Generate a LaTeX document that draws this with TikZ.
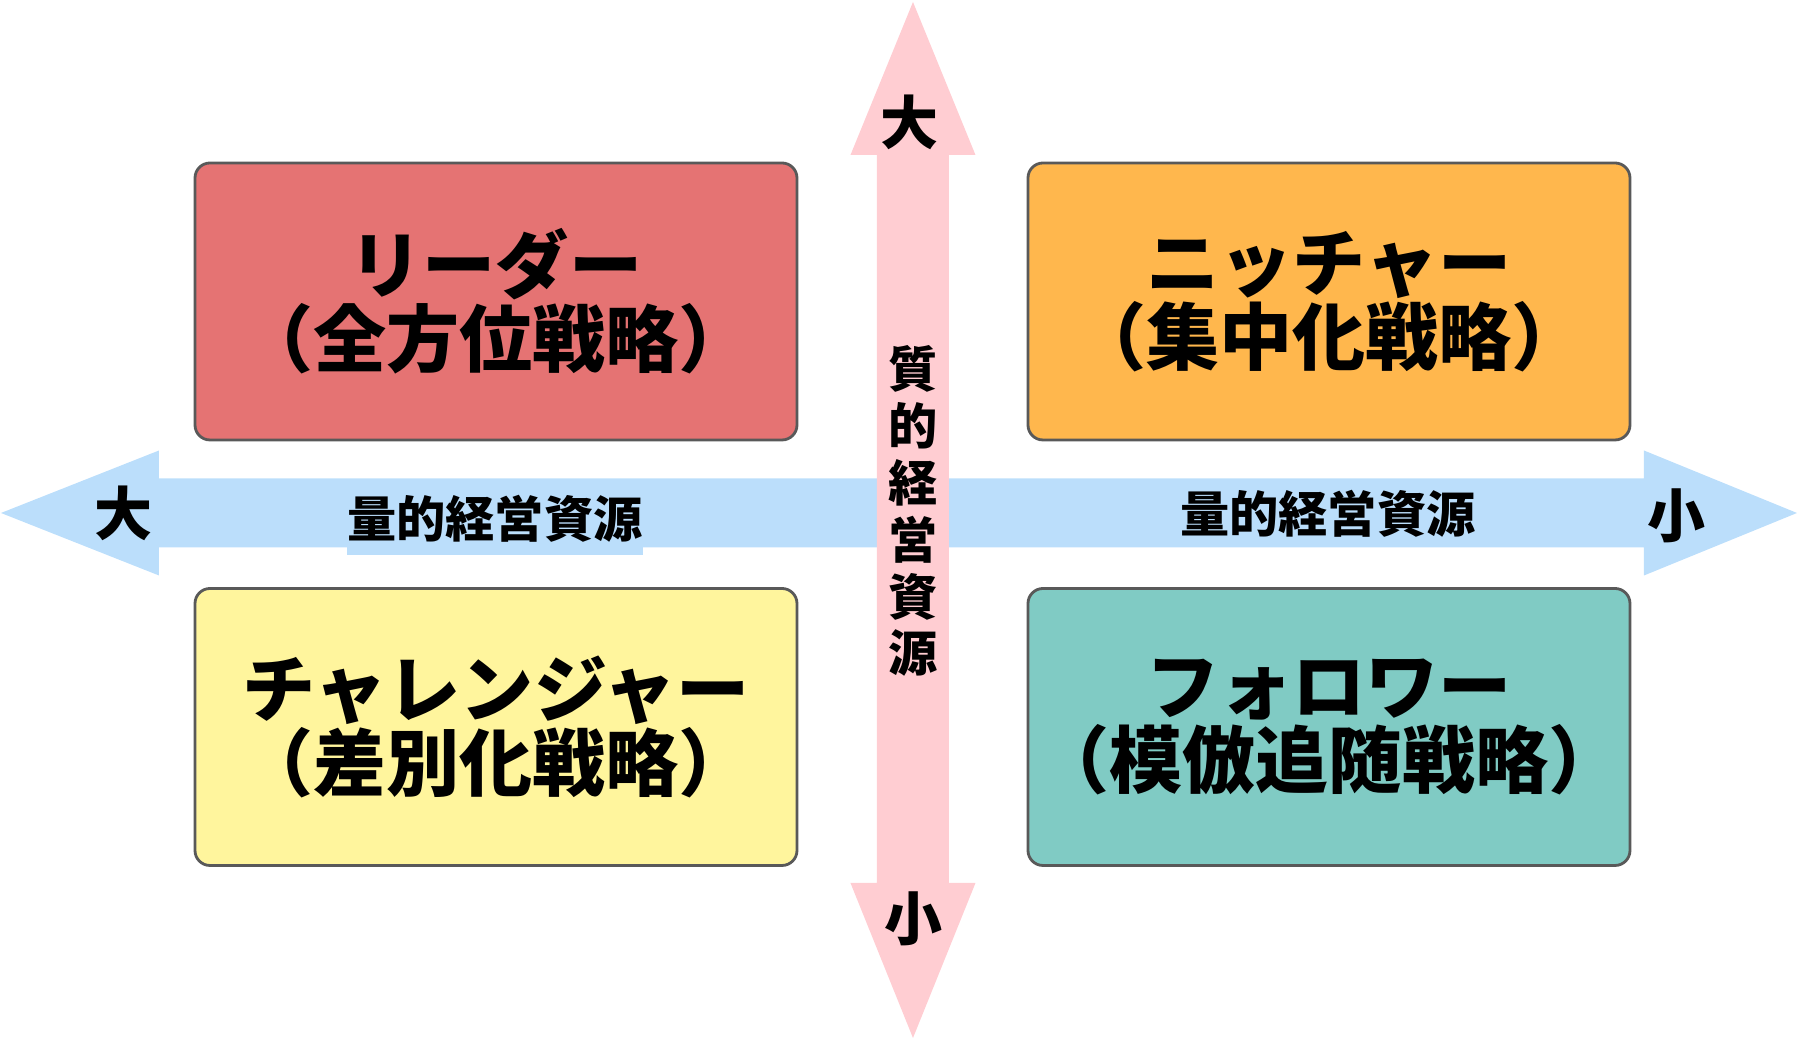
\documentclass[tikz,border=0pt]{standalone}
\usepackage{fontspec}
\newfontfamily\jp{Noto Sans CJK JP}
\definecolor{leaderred}{HTML}{E57373}
\definecolor{nicherorange}{HTML}{FFB74D}
\definecolor{challengeryellow}{HTML}{FFF59D}
\definecolor{followerteal}{HTML}{80CBC4}
\definecolor{qtyblue}{HTML}{BBDEFB}
\definecolor{qualpink}{HTML}{FFCDD2}
\tikzset{
	quadbox/.style={draw=black!65, line width=0.8pt, rounded corners=0.15cm,
		minimum width=6.02cm, minimum height=2.77cm, inner xsep=0pt, align=center,
		font=\jp\bfseries\fontsize{20.8}{21}\selectfont},
	axislabel/.style={font=\jp\bfseries\fontsize{14}{16.2}\selectfont, align=center},
	endlabel/.style={font=\jp\bfseries\fontsize{16.5}{18}\selectfont}
}
\begin{document}
\begin{tikzpicture}
		\useasboundingbox (-9.13,-5.27) rectangle (8.87,5.13);
		% horizontal axis
		\fill[qtyblue] (-9.12,0) -- (-7.54,0.625) -- (-7.54,0.345) -- (7.31,0.345) -- (7.31,0.625)
			-- (8.84,0) -- (7.31,-0.625) -- (7.31,-0.345) -- (-7.54,-0.345) -- (-7.54,-0.625) -- cycle;
		% vertical axis
		\fill[qualpink] (0,5.11) -- (0.625,3.58) -- (0.36,3.58) -- (0.36,-3.70) -- (0.625,-3.70)
			-- (0,-5.25) -- (-0.625,-3.70) -- (-0.36,-3.70) -- (-0.36,3.58) -- (-0.625,3.58) -- cycle;
		\node[axislabel] (qual) at (0,0.02) {質\\的\\経\\営\\資\\源};
		\node[axislabel, fill=qtyblue, inner xsep=0pt, inner ysep=3.5pt] (qtyL) at (-4.18,-0.06) {量的経営資源};
		\node[axislabel] (qtyR) at (4.15,-0.01) {量的経営資源};
		\node[endlabel] (bigL) at (-7.89,0) {大};
		\node[endlabel] (smallR) at (7.64,-0.03) {小};
		\node[endlabel] (bigT) at (-0.03,3.91) {大};
		\node[endlabel] (smallB) at (0.01,-4.06) {小};
		% quadrants
		\node[quadbox, fill=leaderred] (leader) at (-4.17,2.115) {リーダー\\（全方位戦略）};
		\node[quadbox, fill=nicherorange] (nicher) at (4.16,2.115) {ニッチャー\\（集中化戦略）};
		\node[quadbox, fill=challengeryellow] (challenger) at (-4.17,-2.14) {チャレンジャー\\（差別化戦略）};
		\node[quadbox, fill=followerteal] (follower) at (4.16,-2.14) {フォロワー\\（模倣追随戦略）};
		\end{tikzpicture}
\end{document}
